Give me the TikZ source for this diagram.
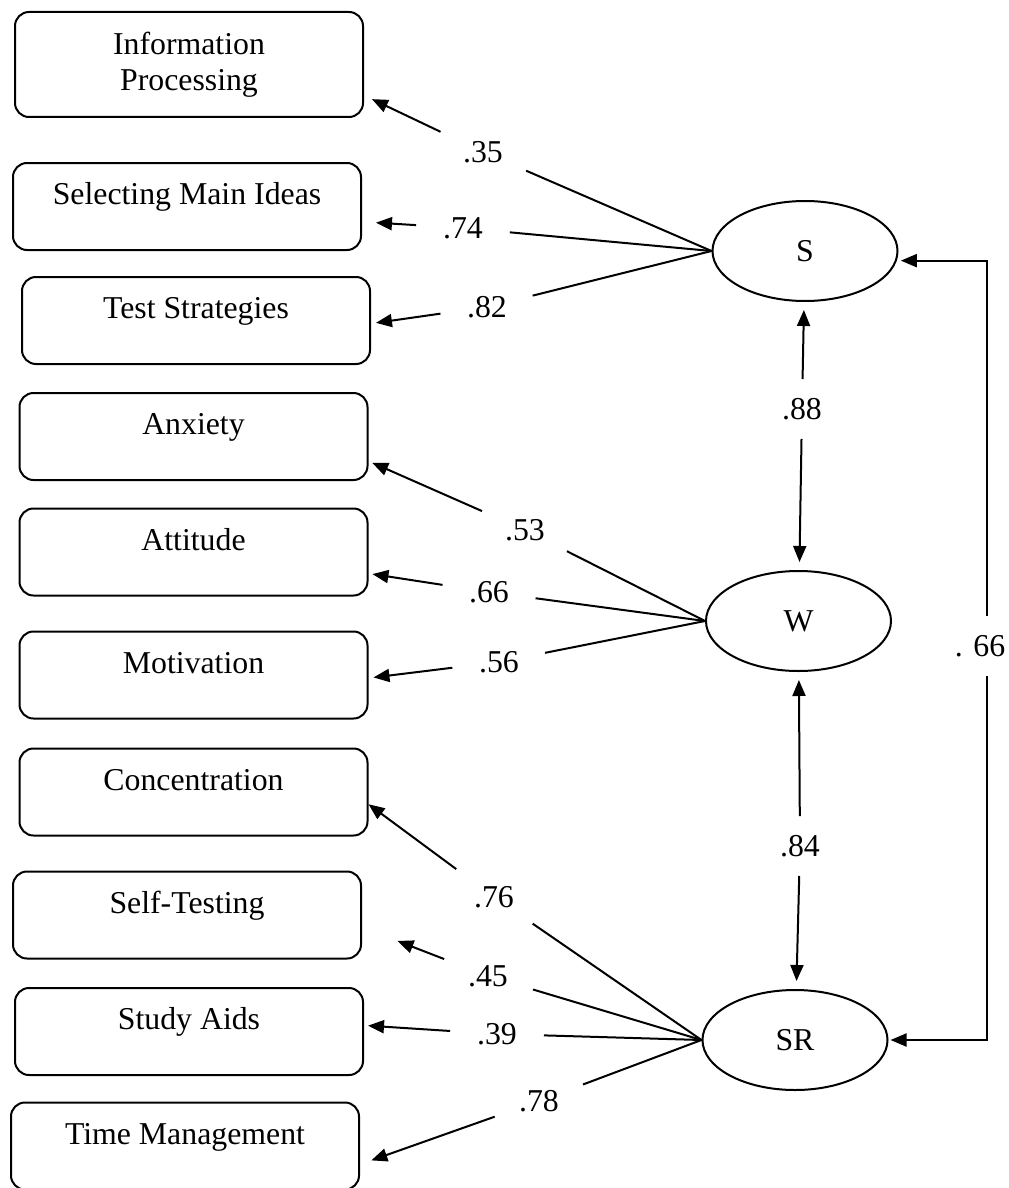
\documentclass[tikz,border=0pt]{standalone}
\usepackage{fontspec}
\setmainfont{Liberation Serif}
\usetikzlibrary{shapes.geometric,arrows.meta}

\begin{document}
\begin{tikzpicture}[x=0.5pt,y=-0.5pt,
	font=\fontsize{15.9}{18}\selectfont,
	line width=1pt,
	>={Triangle[length=8pt,width=6.5pt]},
	itembox/.style={draw,rounded corners=7pt,minimum width=174pt,minimum height=43.5pt,inner sep=0pt,text height=11pt,text depth=13pt},
	itembox2/.style={draw,rounded corners=7pt,minimum width=174pt,minimum height=52.5pt,inner sep=0pt,align=center},
	factor/.style={draw,ellipse,minimum width=92.5pt,minimum height=50pt,inner sep=0pt},
	loading/.style={circle,minimum size=46pt,inner sep=0pt},
	corr/.style={circle,minimum size=29pt,inner sep=0pt}]
	\useasboundingbox (0,0) rectangle (1008,1188);
	\node[itembox2] (ip) at (189,64.5) {Information\\Processing};
	\node[itembox] (smi) at (187,206.5) {Selecting Main Ideas};
	\node[itembox] (ts) at (196,320.5) {Test Strategies};
	\node[itembox] (anx) at (193.5,436.5) {Anxiety};
	\node[itembox] (att) at (193.5,552) {Attitude};
	\node[itembox] (mot) at (193.5,675) {Motivation};
	\node[itembox] (con) at (193.5,792) {Concentration};
	\node[itembox] (st) at (187,915) {Self-Testing};
	\node[itembox] (sa) at (189,1031.5) {Study Aids};
	\node[itembox] (tm) at (185,1146) {Time Management};
	\node[factor] (S) at (805,251) {S};
	\node[factor] (W) at (798.5,621) {W};
	\node[factor] (SR) at (795,1040) {SR};
	\node[loading] (l35) at (483,152) {.35};
	\node[loading] (l74) at (463,228) {.74};
	\node[loading] (l82) at (487,307) {.82};
	\node[loading] (l53) at (525,530) {.53};
	\node[loading] (l66) at (489,592) {.66};
	\node[loading] (l56) at (499,662) {.56};
	\node[loading] (l76) at (494,897) {.76};
	\node[loading] (l45) at (488,976) {.45};
	\node[loading] (l39) at (497,1034) {.39};
	\node[loading] (l78) at (539,1101) {.78};
	\node[corr] (l88) at (802,409) {.88};
	\node[corr] (l84) at (800,846) {.84};
	\node[corr] (lSSR) at (980,646) {. 66};
	\draw (S.west) -- (l35);
	\draw[->,shorten >=4.4pt] (l35) -- (ip.-10.4);
	\draw (S.west) -- (l74);
	\draw[->,shorten >=7pt] (l74) -- (smi.-5.2);
	\draw (S.west) -- (l82);
	\draw[->,shorten >=2.5pt] (l82) -- (ts.-1.7);
	\draw (W.west) -- (l53);
	\draw[->,shorten >=2pt] (l53) -- (anx.-8.7);
	\draw (W.west) -- (l66);
	\draw[->,shorten >=2pt] (l66) -- (att.-7.3);
	\draw (W.west) -- (l56);
	\draw[->,shorten >=2.5pt] (l56) -- (mot.-1.9);
	\draw (SR.west) -- (l76);
	\draw[->] (l76) -- (con.-4.3);
	\draw (SR.west) -- (l45);
	\draw[->,shorten >=19pt] (l45) -- (st.-4.9);
	\draw (SR.west) -- (l39);
	\draw[->,shorten >=2pt] (l39) -- (sa.2.9);
	\draw (SR.west) -- (l78);
	\draw[->,shorten >=6pt] (l78) -- (tm.-6.3);
	\draw[->,shorten >=4pt] (l88) -- (S);
	\draw[->,shorten >=4pt] (l88) -- (W);
	\draw[->,shorten >=4pt] (l84) -- (W);
	\draw[->,shorten >=4pt] (l84) -- (SR);
	\draw[->,shorten >=2pt] ([xshift=3.5pt]lSSR.north) |- (S.-6);
	\draw[->,shorten >=1pt] ([xshift=3.5pt]lSSR.south) |- (SR.east);
\end{tikzpicture}
\end{document}
